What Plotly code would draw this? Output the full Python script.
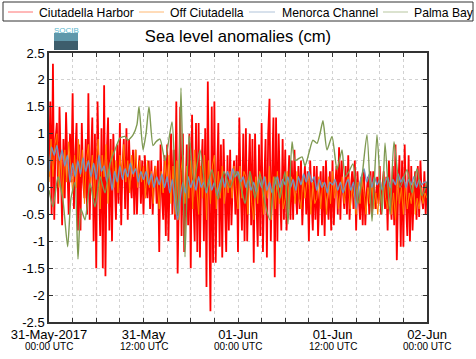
import numpy as np
import pandas as pd
import plotly.graph_objects as go

START = pd.Timestamp("2017-05-31 00:00")
END = pd.Timestamp("2017-06-02 00:00")

series_names = ["Ciutadella Harbor", "Off Ciutadella", "Menorca Channel", "Palma Bay"]
series_colors = ["#ff0000", "#ff8000", "#7394bd", "#7f9a52"]

# Ciutadella Harbor, every 10 min (cm)
ciutadella_harbor = [
    0.2, 1.6, -0.5, 2.3, -0.6, 0.9,
    1.2, -0.3, 1.5, 0.2, -0.7, 0.9,
    -0.2, 1.4, 0.3, -0.5, 1.0, 0.1,
    1.75, -0.4, 0.6, 1.2, -0.8, 0.8,
    -0.8, 1.2, 0.1, -0.2, 0.9, -0.5,
    1.75, -0.6, 0.5, 1.3, -1.0, 1.0,
    -1.5, 1.6, 0.2, -0.9, 1.1, -1.5,
    1.9, -1.65, 0.6, 1.3, -0.8, 0.9,
    -1.0, 1.0, 0.2, -0.6, 0.8, -0.3,
    1.2, -0.7, 0.4, 0.9, -0.4, 1.1,
    -0.6, 0.9, 0.1, -0.2, 0.7, -0.5,
    0.7, -0.5, 0.3, 0.6, -0.3, 0.5,
    -0.5, 0.6, 0.0, -0.2, 0.5, -0.4,
    0.5, -0.5, 0.2, 0.4, -0.3, 0.5,
    -1.2, 0.8, -0.1, -0.6, 0.6, -0.9,
    0.8, -1.0, 0.3, 1.0, -0.5, 0.7,
    -0.6, 1.6, -1.6, 0.4, 1.5, -0.9,
    1.0, -1.2, 0.2, 0.8, -0.7, 1.0,
    -1.5, 1.35, -0.2, -1.0, 1.2, -1.2,
    1.2, -1.3, 0.3, 0.9, -1.0, 1.1,
    -1.85, 1.97, -0.3, -2.3, 1.5, -1.4,
    1.6, -1.4, 0.2, 1.2, -1.1, 0.8,
    -1.3, 0.9, -0.2, -1.2, 0.6, -0.8,
    0.7, -0.7, 0.1, 0.5, -0.5, 0.6,
    -1.2, 1.3, 0.0, -0.8, 1.0, -1.0,
    1.1, -1.0, 0.2, 1.0, -0.7, 0.9,
    -1.4, 1.0, -0.2, -1.1, 0.8, -0.9,
    1.2, -1.2, 0.1, 0.9, -1.3, 1.0,
    1.65, -1.0, 0.3, 1.3, -1.67, 1.3,
    -1.0, 1.0, -0.1, -0.8, 0.9, -0.6,
    0.7, -0.8, 0.0, 0.6, -0.6, 0.5,
    -0.6, 0.7, -0.1, -0.5, 0.4, -0.4,
    0.5, -0.7, 0.0, 0.4, -0.5, 0.3,
    -1.0, 0.5, -0.2, -0.8, 0.4, -0.6,
    0.4, -0.9, -0.1, 0.3, -0.7, 0.4,
    -0.9, 0.5, -0.2, -0.6, 0.3, -0.8,
    0.5, -0.7, 0.0, 0.4, -0.5, 0.75,
    -0.6, 0.5, -0.1, -0.4, 0.4, -0.5,
    0.6, -0.6, 0.0, 0.3, -0.4, 0.5,
    -0.8, 0.3, -0.2, -0.6, 0.2, -0.7,
    0.3, -0.7, -0.1, 0.2, -0.5, 0.3,
    -0.5, 0.3, -0.1, -0.4, 0.2, -0.3,
    0.4, -0.5, 0.0, 0.3, -0.4, 0.2,
    -0.8, 0.5, -0.2, -0.6, 0.4, -0.7,
    0.8, -1.35, -0.1, 0.6, -1.1, 0.5,
    -1.1, 0.8, -0.3, -0.9, 0.6, -1.0,
    0.4, -0.8, -0.1, 0.3, -0.6, 0.4,
    -0.55, 0.5, -0.2, -0.4, 0.3, -0.5,
    0.1,
]
harbor_step_min = 10

# Off Ciutadella, every 15 min (cm)
off_ciutadella = [
    0.1, 0.9, 0.2, 0.8,
    1.0, 0.0, 0.6, -0.2,
    0.7, 0.1, 0.85, 0.3,
    -0.1, 0.6, 0.0, 0.9,
    0.2, 0.7, -0.3, 0.5,
    0.8, 0.0, 0.6, -0.2,
    0.5, 0.9, -0.4, 0.6,
    0.2, 0.8, -0.3, 0.4,
    0.7, 0.0, 0.5, -0.1,
    0.6, 0.2, 0.8, 0.1,
    0.5, -0.1, 0.6, 0.2,
    0.7, 0.0, 0.5, 0.1,
    0.4, -0.2, 0.5, 0.0,
    0.3, -0.3, 0.4, 0.1,
    -0.4, 0.3, -0.1, 0.5,
    0.1, 0.6, -0.3, 0.4,
    -0.5, 0.5, -0.6, 0.3,
    0.6, -0.3, 0.4, -0.2,
    0.5, -0.4, 0.7, 0.0,
    -0.5, 0.4, -0.2, 0.6,
    -0.6, 0.5, -0.3, 0.4,
    0.6, -0.4, 0.3, -0.2,
    0.4, -0.3, 0.2, -0.1,
    0.3, -0.2, 0.4, 0.0,
    -0.4, 0.4, -0.2, 0.3,
    0.2, -0.5, 0.3, -0.3,
    -0.6, 0.2, -0.3, 0.3,
    0.1, -0.5, 0.2, -0.2,
    0.4, -0.6, 0.2, -0.4,
    0.3, -0.3, 0.1, -0.4,
    -0.2, 0.3, -0.4, 0.2,
    0.1, -0.3, 0.3, -0.2,
    -0.4, 0.2, -0.2, 0.1,
    0.3, -0.5, 0.1, -0.3,
    -0.2, 0.2, -0.4, 0.1,
    0.0, -0.5, 0.2, -0.3,
    0.3, -0.2, 0.1, -0.4,
    -0.1, 0.2, -0.3, 0.1,
    0.2, -0.4, 0.0, -0.2,
    -0.5, 0.1, -0.3, 0.2,
    -0.1, -0.5, 0.0, -0.3,
    0.1, -0.4, -0.1, -0.5,
    0.0, -0.3, 0.2, -0.2,
    -0.4, 0.1, -0.5, -0.1,
    -0.6, 0.2, -0.3, 0.0,
    -0.5, 0.1, -0.4, -0.1,
    -0.3, 0.1, -0.5, -0.2,
    -0.4, 0.0, -0.3, -0.1,
    -0.2,
]
off_step_min = 15

# Menorca Channel, every 20 min (cm)
menorca_channel = [
    0.3, 0.75, 0.6,
    0.78, 0.5, 0.7,
    0.4, 0.6, 0.1,
    0.45, 0.2, 0.5,
    0.25, 0.55, 0.3,
    0.5, 0.2, 0.45,
    0.15, 0.6, 0.3,
    0.4, 0.1, 0.35,
    -0.05, 0.3, 0.1,
    0.4, 0.15, 0.35,
    0.2, 0.45, 0.25,
    0.35, 0.1, 0.3,
    0.15, 0.3, 0.05,
    0.25, 0.0, 0.2,
    0.05, 0.25, 0.0,
    0.2, -0.1, 0.15,
    -0.3, -0.6, -0.2,
    0.1, -0.1, 0.2,
    0.0, 0.15, -0.05,
    0.2, 0.0, 0.1,
    -0.1, 0.15, -0.05,
    0.1, -0.15, 0.05,
    0.2, 0.0, 0.3,
    0.15, 0.35, 0.2,
    0.3, 0.1, 0.2,
    0.0, 0.15, -0.05,
    0.1, -0.1, 0.15,
    0.0, 0.2, -0.05,
    0.1, -0.1, 0.05,
    0.2, 0.0, 0.15,
    0.05, 0.2, 0.0,
    0.15, -0.05, 0.2,
    0.05, 0.25, 0.1,
    0.3, 0.1, 0.2,
    -0.05, 0.15, 0.0,
    0.1, -0.1, 0.1,
    0.05, 0.15, -0.05,
    0.1, -0.1, 0.05,
    0.15, -0.05, 0.1,
    -0.4, 0.0, 0.2,
    0.35, 0.1, 0.25,
    0.0, 0.2, 0.05,
    0.15, -0.05, 0.1,
    0.2, 0.0, 0.15,
    0.05, 0.25, 0.1,
    0.2, 0.0, 0.15,
    0.05, 0.2, 0.0,
    0.15, 0.05, 0.1,
    0.1,
]
menorca_step_min = 20

# Palma Bay, read at turning points (hours after start, cm)
palma_bay_hours = [
    0.0, 0.51, 1.14, 1.78, 2.37, 2.79, 3.30, 3.68, 4.06, 4.57,
    5.21, 5.84, 6.48, 7.11, 7.75, 8.38, 9.02, 9.65, 10.03, 10.67,
    11.17, 11.43, 11.94, 12.32, 12.70, 13.21, 13.59, 14.10, 14.73, 15.62,
    16.0, 16.38, 16.76, 17.27, 17.78, 18.41, 19.17, 19.94, 20.70, 21.46,
    22.22, 22.98, 23.75, 24.25, 24.89, 25.52, 26.16, 26.79, 27.43, 28.06,
    28.70, 29.33, 29.97, 30.35, 30.86, 31.24, 32.13, 32.51, 33.02, 33.52,
    34.03, 34.41, 34.79, 35.30, 35.94, 36.57, 37.21, 37.59, 38.10, 38.60,
    39.24, 39.75, 40.38, 41.02, 41.65, 42.29, 42.67, 43.30, 43.81, 44.57,
    45.46, 46.10, 46.73, 47.37, 48.0,
]
palma_bay = [
    -0.05, -0.36, 0.2, -0.25, -1.1, -0.2, 0.1, -1.33, -0.4, -0.6,
    0.08, -0.36, 0.2, -0.1, 0.45, 0.7, 0.92, 0.95, 0.88, 0.98,
    1.17, 1.5, 0.7, 1.0, 1.5, 0.78, 0.85, 0.9, 0.5, 1.22,
    0.2, -0.52, 1.85, -1.29, 0.97, 0.1, 0.7, -0.05, 0.33, -0.22,
    0.3, 0.0, 0.3, 0.1, -0.3, 0.3, -0.2, 0.25, -0.3, -0.6,
    0.2, -0.2, 0.3, -0.68, 0.85, 0.5, 0.57, 0.4, 0.65, 0.88,
    0.82, 1.0, 1.24, 0.7, 0.95, 0.33, 0.7, 0.2, 0.3, 0.44,
    -0.3, 0.2, 0.98, -0.63, 0.98, -0.5, 0.83, -0.5, 0.85, 0.0,
    0.33, -0.1, 0.35, -0.15, 0.1,
]

y_tick_vals = [2.5, 2, 1.5, 1, 0.5, 0, -0.5, -1, -1.5, -2, -2.5]
y_tick_text = ["2.5", "2", "1.5", "1", "0.5", "0", "-0.5", "-1", "-1.5", "-2", "-2.5"]
x_label_hours = [0, 12, 24, 36, 48]
x_label_day = ["31-May-2017", "31-May", "01-Jun", "01-Jun", "02-Jun"]
x_label_time = ["00:00 UTC", "12:00 UTC", "00:00 UTC", "12:00 UTC", "00:00 UTC"]
x_grid_step_h = 3

# ---------------- figure ----------------
W, H = 476, 359
ML, MR, MT, MB = 49, 49, 53, 37
PW, PH = W - ML - MR, H - MT - MB


def px(x):
    return (x - ML) / PW


def py(y):
    return (H - MB - y) / PH


def times(n, step):
    return START + pd.to_timedelta(np.arange(n) * step, unit="min")


traces = [
    (times(len(ciutadella_harbor), harbor_step_min), ciutadella_harbor, 1.8, "linear"),
    (times(len(off_ciutadella), off_step_min), off_ciutadella, 1.0, "linear"),
    (times(len(menorca_channel), menorca_step_min), menorca_channel, 1.4, "spline"),
    (START + pd.to_timedelta(np.array(palma_bay_hours), unit="h"), palma_bay, 1.4, "spline"),
]

fig = go.Figure()
for (t, v, w, shp), name, col in zip(traces, series_names, series_colors):
    fig.add_trace(go.Scatter(x=t, y=v, mode="lines", name=name,
                             line=dict(color=col, width=w, shape=shp, smoothing=0.6),
                             showlegend=False))

tickvals = [START + pd.Timedelta(hours=h) for h in range(0, 49, x_grid_step_h)]
ticktext = []
for h in range(0, 49, x_grid_step_h):
    ticktext.append(x_label_day[x_label_hours.index(h)] if h in x_label_hours else "")

axis_common = dict(showline=True, linecolor="#333333", linewidth=1.5, mirror="allticks",
                   ticks="inside", ticklen=4, tickcolor="#333333",
                   showgrid=True, gridcolor="#d2d2d2", griddash="dot", gridwidth=1,
                   zeroline=False, automargin=False, tickfont=dict(size=13, color="black"))

fig.update_xaxes(type="date", range=[START, END], tickmode="array",
                 tickvals=tickvals, ticktext=ticktext, tickangle=0, **axis_common)
fig.update_yaxes(range=[-2.5, 2.5], tickmode="array", tickvals=y_tick_vals,
                 ticktext=y_tick_text, **axis_common)

# manual legend (box, line samples, labels)
legend_items = [(8, 33, 37), (139, 164, 168), (249, 275, 280), (383, 408, 412)]
shapes = [dict(type="rect", xref="paper", yref="paper",
               x0=px(3), x1=px(473), y0=py(21), y1=py(2),
               line=dict(color="#333333", width=1), fillcolor="white")]
annotations = []
for (x0, x1, xt), name, col in zip(legend_items, series_names, series_colors):
    shapes.append(dict(type="line", xref="paper", yref="paper",
                       x0=px(x0), x1=px(x1), y0=py(12), y1=py(12),
                       line=dict(color=col, width=1), opacity=0.55))
    annotations.append(dict(text=name, xref="paper", yref="paper", x=px(xt), y=py(12.5),
                            xanchor="left", yanchor="middle", showarrow=False,
                            font=dict(size=12.2, color="black")))

# second line of the time-axis labels
for h, lab in zip(x_label_hours, x_label_time):
    annotations.append(dict(text=lab, xref="x", yref="paper",
                            x=START + pd.Timedelta(hours=h), y=py(346),
                            xanchor="center", yanchor="middle", showarrow=False,
                            font=dict(size=10, color="black")))

# SOCIB logo
shapes.append(dict(type="rect", xref="paper", yref="paper", x0=px(54), x1=px(78),
                   y0=py(41), y1=py(33), line=dict(width=0), fillcolor="#5f98ab"))
shapes.append(dict(type="rect", xref="paper", yref="paper", x0=px(54), x1=px(78),
                   y0=py(50), y1=py(41), line=dict(width=0), fillcolor="#3d5d6c"))
annotations.append(dict(text="SOCIB", xref="paper", yref="paper", x=px(66), y=py(30),
                        xanchor="center", yanchor="middle", showarrow=False,
                        font=dict(size=8, color="#5ab6cc")))

fig.update_layout(
    width=W, height=H,
    margin=dict(l=ML, r=MR, t=MT, b=MB, pad=0, autoexpand=False),
    paper_bgcolor="white", plot_bgcolor="white",
    font=dict(family="Liberation Sans, Arial, sans-serif", size=13, color="black"),
    title=dict(text="Sea level anomalies (cm)", x=0.5, xanchor="center",
               y=1 - 36 / H, yanchor="middle", font=dict(size=16.6, color="black")),
    shapes=shapes, annotations=annotations, showlegend=False,
)

fig.write_html("out.html", config={"displayModeBar": False},
               post_script="document.body.style.margin='0px';document.body.style.overflow='hidden';")
